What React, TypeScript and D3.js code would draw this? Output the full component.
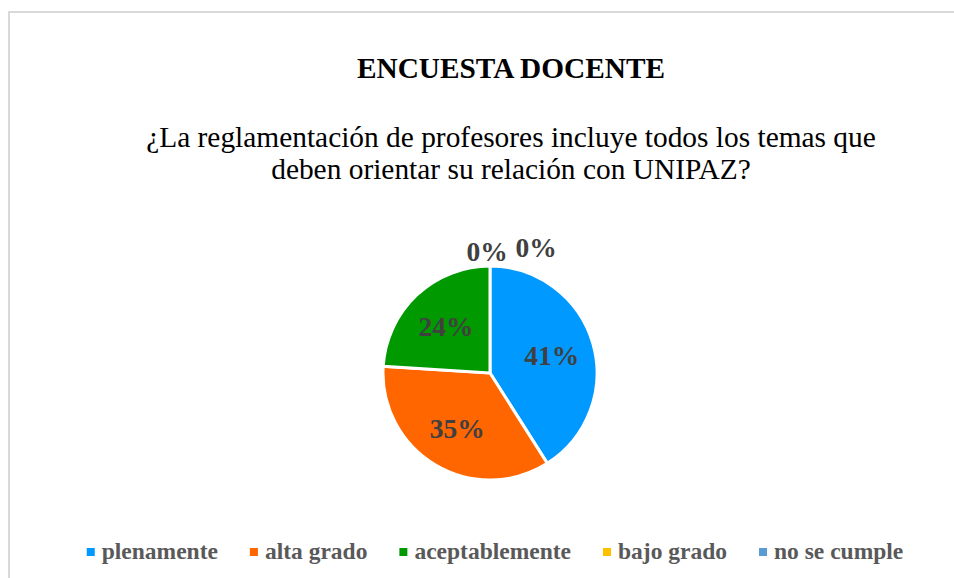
import React from "react";
import * as d3 from "d3";

const categories = ["plenamente", "alta grado", "aceptablemente", "bajo grado", "no se cumple"];
const values = [41, 35, 24, 0, 0];
const colors = ["#0099FF", "#FF6600", "#009900", "#FFC000", "#5B9BD5"];
const title = "ENCUESTA DOCENTE";
const subtitleLines = [
  "¿La reglamentación de profesores incluye todos los temas que",
  "deben orientar su relación con UNIPAZ?",
];

const W = 954;
const H = 578;
const FONT = "'Liberation Serif', 'Times New Roman', serif";

function measure(text: string, font: string): number {
  const c = document.createElement("canvas").getContext("2d");
  if (!c) return text.length * 10;
  c.font = font;
  return c.measureText(text).width;
}

export default function App() {
  const cx = 490;
  const cy = 373;
  const R = 107;
  const total = d3.sum(values);
  const pie = d3.pie<number>().sort(null).startAngle(0).endAngle(2 * Math.PI);
  const arcs = pie(values);
  const arc = d3.arc<d3.PieArcDatum<number>>().innerRadius(0).outerRadius(R);
  const labelArc = d3.arc<d3.PieArcDatum<number>>().innerRadius(R * 0.6).outerRadius(R * 0.6);

  // legend layout
  const legendFontSize = 23.5;
  const legendFont = `bold ${legendFontSize}px ${FONT}`;
  const marker = 8;
  const markerGap = 7;
  const itemGap = 32;
  const widths = categories.map((c) => marker + markerGap + measure(c, legendFont));
  const totalW = d3.sum(widths) + itemGap * (categories.length - 1);
  const legendCenter = 495;
  let lx = legendCenter - totalW / 2;
  const legendItems = categories.map((c, i) => {
    const x = lx;
    lx += widths[i] + itemGap;
    return { c, x, color: colors[i] };
  });
  const legendBaseline = 559;

  let zeroIdx = 0;

  return (
    <svg
      width={W}
      height={H}
      style={{ position: "absolute", left: 0, top: 0, background: "#fff" }}
    >
      <rect x={9} y={12} width={W + 20} height={H + 20} fill="#fff" stroke="#D9D9D9" strokeWidth={2} />
      <text
        x={511}
        y={78}
        textAnchor="middle"
        fontFamily={FONT}
        fontWeight="bold"
        fontSize={29.3}
        fill="#000"
      >
        {title}
      </text>
      {subtitleLines.map((l, i) => (
        <text
          key={i}
          x={511}
          y={147 + i * 32}
          textAnchor="middle"
          fontFamily={FONT}
          fontSize={29.4}
          fill="#000"
        >
          {l}
        </text>
      ))}
      <g transform={`translate(${cx},${cy})`}>
        {arcs.map((a, i) =>
          a.value > 0 ? (
            <path key={i} d={arc(a) || ""} fill={colors[i]} stroke="#fff" strokeWidth={3} />
          ) : null
        )}
        {arcs.map((a, i) => {
          const pct = Math.round((a.value / total) * 100) + "%";
          if (a.value > 0) {
            const [x, y] = labelArc.centroid(a);
            return (
              <text
                key={"l" + i}
                x={x}
                y={y}
                dy="0.35em"
                textAnchor="middle"
                fontFamily={FONT}
                fontWeight="bold"
                fontSize={27.5}
                fill="#404040"
              >
                {pct}
              </text>
            );
          }
          const k = zeroIdx++;
          const ang = a.startAngle;
          const ox = Math.sin(ang) * (R + 5);
          const oy = -Math.cos(ang) * (R + 5);
          return (
            <text
              key={"l" + i}
              x={ox + (k === 0 ? -3 : 46)}
              y={oy - (k === 0 ? 0 : 4)}
              textAnchor="middle"
              fontFamily={FONT}
              fontWeight="bold"
              fontSize={27.5}
              fill="#404040"
            >
              {pct}
            </text>
          );
        })}
      </g>
      {legendItems.map((it, i) => (
        <g key={i}>
          <rect x={it.x} y={legendBaseline - 11} width={marker} height={marker} fill={it.color} />
          <text
            x={it.x + marker + markerGap}
            y={legendBaseline}
            fontFamily={FONT}
            fontWeight="bold"
            fontSize={legendFontSize}
            fill="#595959"
          >
            {it.c}
          </text>
        </g>
      ))}
    </svg>
  );
}
